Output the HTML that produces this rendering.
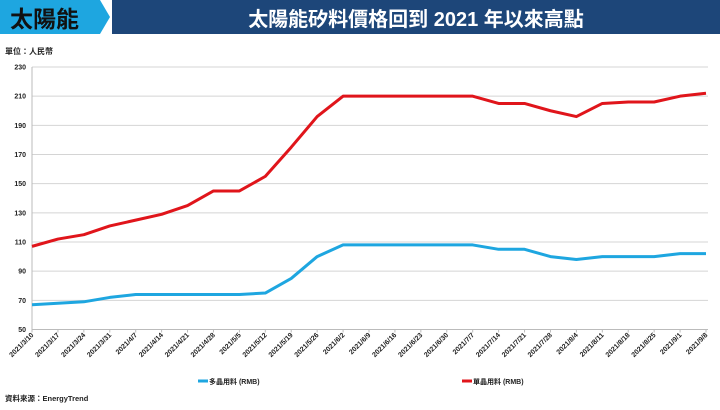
<!DOCTYPE html>
<html><head><meta charset="utf-8">
<style>
body{margin:0;width:720px;height:405px;background:#fff;font-family:"Liberation Sans","Noto Sans CJK TC",sans-serif;overflow:hidden}
</style></head>
<body>
<svg width="720" height="405" xmlns="http://www.w3.org/2000/svg" id="chart">
<polygon points="0,0 100,0 110,17 100,34 0,34" fill="#1ea6e0"/>
<text x="10" y="27" font-size="23" font-weight="bold" fill="#111" font-family="Noto Sans CJK TC,sans-serif">太陽能</text>
<rect x="112" y="0" width="608" height="34" fill="#1d4679"/>
<text x="416" y="26" font-size="20" font-weight="bold" fill="#fff" text-anchor="middle" font-family="Liberation Sans,Noto Sans CJK TC,sans-serif">太陽能矽料價格回到 2021 年以來高點</text>
<text x="5" y="54" font-size="8" font-weight="bold" fill="#222" font-family="Noto Sans CJK TC,sans-serif">單位：人民幣</text>
<g id="grid"></g><g id="xaxis"></g><g id="lines"></g>
<line x1="198" y1="381" x2="208" y2="381" stroke="#1ea6e0" stroke-width="3"/>
<text x="209" y="384" font-size="7" font-weight="bold" fill="#222" font-family="Liberation Sans,Noto Sans CJK TC,sans-serif">多晶用料 (RMB)</text>
<line x1="462" y1="381" x2="472" y2="381" stroke="#e0151b" stroke-width="3"/>
<text x="473" y="384" font-size="7" font-weight="bold" fill="#222" font-family="Liberation Sans,Noto Sans CJK TC,sans-serif">單晶用料 (RMB)</text>
<text x="5" y="401" font-size="7.5" font-weight="bold" fill="#222" font-family="Liberation Sans,Noto Sans CJK TC,sans-serif">資料來源：EnergyTrend</text>
</svg>
<script>
const categories=["2021/3/10","2021/3/17","2021/3/24","2021/3/31","2021/4/7","2021/4/14","2021/4/21","2021/4/28","2021/5/5","2021/5/12","2021/5/19","2021/5/26","2021/6/2","2021/6/9","2021/6/16","2021/6/23","2021/6/30","2021/7/7","2021/7/14","2021/7/21","2021/7/28","2021/8/4","2021/8/11","2021/8/18","2021/8/25","2021/9/1","2021/9/8"];
const monoValues=[107,112,115,121,125,129,135,145,145,155,175,196,210,210,210,210,210,210,205,205,200,196,205,206,206,210,212];
const polyValues=[67,68,69,72,74,74,74,74,74,75,85,100,108,108,108,108,108,108,105,105,100,98,100,100,100,102,102];
const yTicks=[50,70,90,110,130,150,170,190,210,230];
const NS="http://www.w3.org/2000/svg";
const x0=32,x1=706,yTop=67,yBot=329.5,vMin=50,vMax=230;
function xs(i){return x0+(x1-x0)*i/(categories.length-1);}
function ys(v){return yBot-(v-vMin)/(vMax-vMin)*(yBot-yTop);}
function mk(t,a,p){const e=document.createElementNS(NS,t);for(const k in a)e.setAttribute(k,a[k]);p.appendChild(e);return e;}
const grid=document.getElementById('grid'),xa=document.getElementById('xaxis'),lg=document.getElementById('lines');
yTicks.forEach(v=>{
 const l=mk('line',{x1:x0,x2:x1+2,y1:ys(v),y2:ys(v),stroke:v===50?'#bbb':'#d4d4d4','stroke-width':1},grid);
 
 
 const t=mk('text',{x:x0-6,y:ys(v)+2.5,'font-size':7,'font-weight':'bold','text-anchor':'end',fill:'#222'},grid);
 t.textContent=v;
 
 
});
const ax=mk('line',{x1:x0,x2:x0,y1:yTop,y2:yBot,stroke:'#bbb'},grid);


categories.forEach((c,i)=>{
 const x=xs(i);
 mk('line',{x1:x,x2:x,y1:yBot,y2:yBot+3,stroke:'#bbb'},xa);
 const t=mk('text',{x:x+2,y:yBot+6,'font-size':7,'font-weight':'bold','text-anchor':'end',fill:'#222',transform:`rotate(-45 ${x+2} ${yBot+6})`},xa);
 t.textContent=c;
 
 
});
function series(vals,color,name){
 const p=mk('polyline',{points:vals.map((v,i)=>xs(i)+','+ys(v)).join(' '),fill:'none',stroke:color,'stroke-width':3,'stroke-linejoin':'round'},lg);
 
 
}
series(polyValues,'#1ea6e0','poly-line');
series(monoValues,'#e0151b','mono-line');
</script>
</body></html>
